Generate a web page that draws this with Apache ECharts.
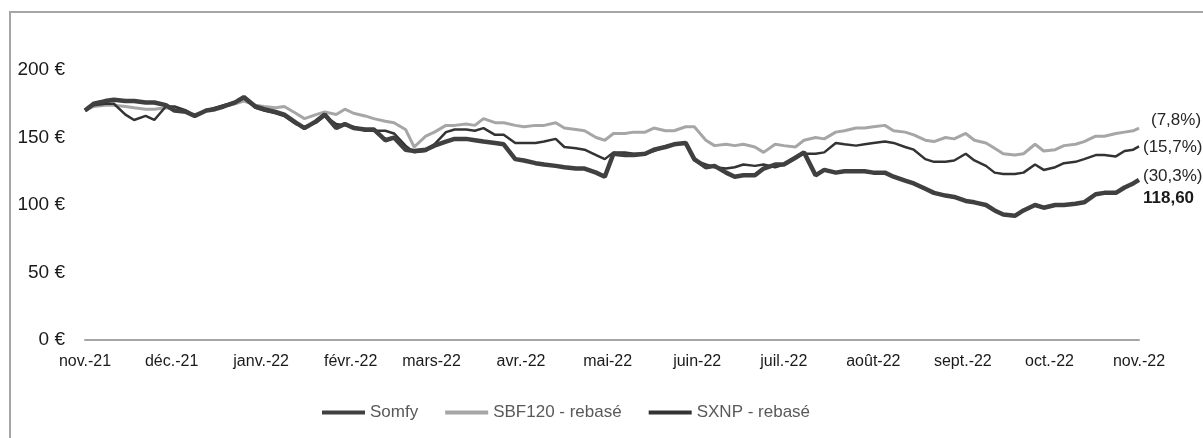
<!DOCTYPE html>
<html>
<head>
<meta charset="utf-8">
<script src="https://cdn.jsdelivr.net/npm/echarts@6/dist/echarts.min.js"></script>
<style>
  html, body { margin: 0; padding: 0; background: #fff; }
  #chart { width: 1203px; height: 438px; }
</style>
</head>
<body>
<div id="chart"></div>
<script>
// month tick labels (first day of each month, nov. 2021 -> nov. 2022)
const monthLabels = ['nov.-21', 'déc.-21', 'janv.-22', 'févr.-22', 'mars-22', 'avr.-22', 'mai-22',
  'juin-22', 'juil.-22', 'août-22', 'sept.-22', 'oct.-22', 'nov.-22']

// sample points, in days since 2021-11-01
const sampleDays = [0, 3, 7, 10, 14, 17, 21, 24, 28, 31,
  35, 38, 42, 45, 48, 52, 55, 59, 62, 66,
  69, 73, 76, 80, 83, 87, 90, 93, 97, 100,
  104, 107, 111, 114, 118, 121, 125, 128, 132, 135,
  138, 142, 145, 149, 152, 156, 159, 163, 166, 170,
  173, 177, 180, 183, 187, 190, 194, 197, 201, 204,
  208, 211, 215, 218, 222, 225, 228, 232, 235, 239,
  242, 246, 249, 253, 256, 260, 263, 267, 270, 273,
  277, 280, 284, 287, 291, 294, 298, 301, 305, 308,
  312, 315, 318, 322, 325, 329, 332, 336, 339, 343,
  346, 350, 353, 357, 360, 363, 365]

const somfy = [170, 175, 177, 178, 177, 177, 176, 176, 174, 170,
  169, 166, 170, 171, 173, 176, 180, 173, 171, 169,
  167, 161, 157, 162, 167, 157, 160, 157, 156, 156,
  148, 150, 141, 140, 141, 144, 147, 149, 149, 148,
  147, 146, 145, 134, 133, 131, 130, 129, 128, 127,
  127, 124, 121, 138, 137, 137, 138, 141, 143, 145,
  146, 134, 128, 129, 124, 121, 122, 122, 127, 130,
  130, 135, 139, 122, 126, 124, 125, 125, 125, 124,
  124, 121, 118, 116, 112, 109, 107, 106, 103, 102,
  100, 96, 93, 92, 96, 100, 98, 100, 100, 101,
  102, 108, 109, 109, 113, 116, 118.6]

const sbf120 = [170, 173, 174, 174, 173, 172, 171, 171, 172, 171,
  169, 167, 170, 172, 173, 175, 177, 174, 173, 172,
  173, 168, 164, 167, 169, 167, 171, 168, 166, 164,
  162, 161, 156, 143, 151, 154, 159, 159, 160, 159,
  164, 161, 161, 159, 158, 159, 159, 161, 157, 156,
  155, 150, 148, 153, 153, 154, 154, 157, 155, 155,
  158, 158, 148, 144, 145, 144, 145, 143, 139, 145,
  144, 143, 148, 150, 149, 154, 155, 157, 157, 158,
  159, 155, 154, 152, 148, 147, 150, 149, 153, 148,
  146, 142, 138, 137, 138, 145, 140, 141, 144, 145,
  147, 151, 151, 153, 154, 155, 156.9]

const sxnp = [170, 174, 175, 175, 167, 163, 166, 163, 173, 173,
  170, 166, 170, 172, 174, 176, 179, 172, 170, 168,
  166, 160, 158, 161, 166, 160, 159, 158, 155, 155,
  155, 153, 144, 139, 140, 145, 154, 156, 156, 155,
  157, 152, 152, 146, 146, 146, 147, 149, 143, 142,
  141, 137, 134, 139, 139, 138, 138, 140, 143, 145,
  146, 133, 130, 128, 127, 128, 130, 129, 130, 128,
  130, 135, 138, 138, 139, 146, 145, 144, 145, 146,
  147, 146, 143, 141, 134, 132, 132, 133, 138, 133,
  129, 124, 123, 123, 124, 130, 126, 128, 131, 132,
  134, 137, 137, 136, 140, 141, 143.5]

// one category per calendar day
const days = []
const monthStart = {}
const start = new Date(Date.UTC(2021, 10, 1))
for (let i = 0; i <= 365; i++) {
  const d = new Date(start.getTime() + i * 86400000)
  days.push(d.toISOString().slice(0, 10))
  if (d.getUTCDate() === 1) monthStart[i] = monthLabels[Object.keys(monthStart).length]
}

const pairs = arr => sampleDays.map((d, i) => [d, arr[i]])

const chart = echarts.init(document.getElementById('chart'))
chart.setOption({
  animation: false,
  textStyle: { fontFamily: 'Liberation Sans, Arial, sans-serif' },
  graphic: [{
    type: 'rect',
    shape: { x: 10, y: 12, width: 1300, height: 500 },
    style: { fill: 'none', stroke: '#a6a6a6', lineWidth: 2 },
    silent: true
  }],
  grid: { left: 85, right: 64, top: 12, bottom: 98 },
  legend: {
    bottom: 12,
    left: 317,
    icon: 'rect',
    itemWidth: 43,
    itemHeight: 4,
    itemGap: 27,
    textStyle: { fontSize: 17, color: '#595959' },
    data: ['Somfy', 'SBF120 - rebasé', 'SXNP - rebasé']
  },
  xAxis: {
    type: 'category',
    data: days,
    boundaryGap: false,
    axisLine: { lineStyle: { color: '#a6a6a6', width: 2 } },
    axisTick: { show: false },
    axisLabel: {
      interval: idx => monthStart[idx] !== undefined,
      formatter: (v, idx) => monthStart[idx] || '',
      color: '#1a1a1a',
      fontSize: 16,
      margin: 14
    },
    splitLine: { show: false }
  },
  yAxis: {
    type: 'value',
    min: 0,
    max: 243,
    interval: 50,
    axisLine: { show: false },
    axisTick: { show: false },
    splitLine: { show: false },
    axisLabel: {
      formatter: v => (v % 50 === 0 ? v + ' €' : ''),
      color: '#1a1a1a',
      fontSize: 19,
      margin: 20
    }
  },
  series: [{
    name: 'Somfy',
    type: 'line',
    data: pairs(somfy),
    symbol: 'none',
    lineStyle: { color: '#404040', width: 4.5 },
    itemStyle: { color: '#404040' },
    z: 4,
    endLabel: {
      show: true,
      distance: 4,
      offset: [0, 7],
      formatter: '{a|(30,3%)}\n{b|118,60}',
      rich: {
        a: { fontSize: 17, color: '#262626', lineHeight: 22 },
        b: { fontSize: 17, fontWeight: 'bold', color: '#1a1a1a', lineHeight: 22 }
      }
    }
  }, {
    name: 'SBF120 - rebasé',
    type: 'line',
    data: pairs(sbf120),
    symbol: 'none',
    lineStyle: { color: '#a6a6a6', width: 3 },
    itemStyle: { color: '#a6a6a6' },
    z: 2,
    endLabel: {
      show: true,
      distance: 4,
      offset: [8, -8],
      formatter: '(7,8%)',
      fontSize: 17,
      color: '#262626'
    }
  }, {
    name: 'SXNP - rebasé',
    type: 'line',
    data: pairs(sxnp),
    symbol: 'none',
    lineStyle: { color: '#333333', width: 2.5 },
    itemStyle: { color: '#333333' },
    z: 3,
    endLabel: {
      show: true,
      distance: 4,
      offset: [0, 1],
      formatter: '(15,7%)',
      fontSize: 17,
      color: '#262626'
    }
  }]
})
</script>
</body>
</html>
